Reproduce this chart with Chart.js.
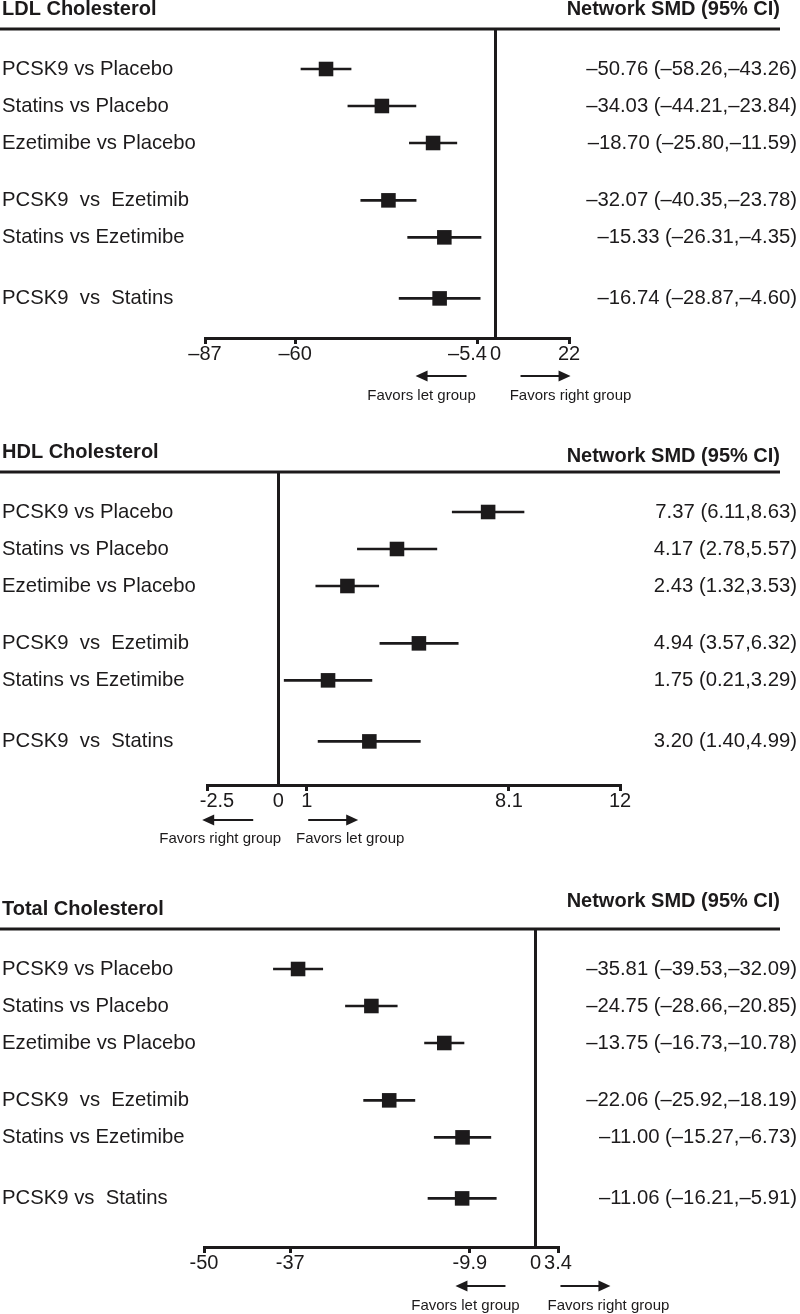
<!DOCTYPE html>
<html>
<head>
<meta charset="utf-8">
<title>Network SMD forest plots</title>
<script src="https://cdn.jsdelivr.net/npm/chart.js@4.4.1/dist/chart.umd.min.js"></script>
<style>
  html, body { margin: 0; padding: 0; background: #fff; }
  #page { position: relative; width: 800px; height: 1314px; overflow: hidden; }
  canvas { position: absolute; left: 0; }
</style>
</head>
<body>
<div id="page">
  <canvas id="ldlChart"></canvas>
  <canvas id="hdlChart"></canvas>
  <canvas id="tcChart"></canvas>
</div>
<script>
// ---------------------------------------------------------
// Data
const rowGroups = [0, 0, 0, 1, 1, 2];

const ldlLabels = ['PCSK9 vs Placebo', 'Statins vs Placebo', 'Ezetimibe vs Placebo',
                   'PCSK9  vs  Ezetimib', 'Statins vs Ezetimibe', 'PCSK9  vs  Statins'];
const ldlEst  = [-50.76, -34.03, -18.70, -32.07, -15.33, -16.74];
const ldlLow  = [-58.26, -44.21, -25.80, -40.35, -26.31, -28.87];
const ldlHigh = [-43.26, -23.84, -11.59, -23.78, -4.35, -4.60];
const ldlTicks = [-87, -60, -5.4, 0, 22];
const ldlTickText = ['\u201387', '\u201360', '\u20135.4\u2002\u2002', '0', '22'];
const ldlFavors = ['Favors let group', 'Favors right group'];

const hdlLabels = ['PCSK9 vs Placebo', 'Statins vs Placebo', 'Ezetimibe vs Placebo',
                   'PCSK9  vs  Ezetimib', 'Statins vs Ezetimibe', 'PCSK9  vs  Statins'];
const hdlEst  = [7.37, 4.17, 2.43, 4.94, 1.75, 3.20];
const hdlLow  = [6.11, 2.78, 1.32, 3.57, 0.21, 1.40];
const hdlHigh = [8.63, 5.57, 3.53, 6.32, 3.29, 4.99];
const hdlTicks = [-2.5, 0, 1, 8.1, 12];
const hdlTickText = ['\u2002\u2002-2.5', '0', '1', '8.1', '12'];
const hdlFavors = ['Favors right group', 'Favors let group'];

const tcLabels = ['PCSK9 vs Placebo', 'Statins vs Placebo', 'Ezetimibe vs Placebo',
                  'PCSK9  vs  Ezetimib', 'Statins vs Ezetimibe', 'PCSK9 vs  Statins'];
const tcEst  = [-35.81, -24.75, -13.75, -22.06, -11.00, -11.06];
const tcLow  = [-39.53, -28.66, -16.73, -25.92, -15.27, -16.21];
const tcHigh = [-32.09, -20.85, -10.78, -18.19, -6.73, -5.91];
const tcTicks = [-50, -37, -9.9, 0, 3.4];
const tcTickText = ['-50', '-37', '-9.9', '0', '3.4'];
const tcFavors = ['Favors let group', 'Favors right group'];

// ---------------------------------------------------------
// Look & layout
const ink = '#1c1a1b';
const family = '"Liberation Sans", Arial, Helvetica, sans-serif';
const rowStep = 37;        // px between rows
const firstRow = 40;       // px from header rule to first row
const groupGap = [0, 0.55, 1.2];

const fmt = v => v.toFixed(2).replace('-', '\u2013');

// header rule, titles, direction arrows
const decorPlugin = {
  id: 'decor',
  afterDraw(chart, args, o) {
    const ctx = chart.ctx;
    const xs = chart.scales.x;
    const zero = xs.getPixelForValue(0);
    const base = xs.top;
    ctx.save();
    ctx.fillStyle = ink;
    ctx.strokeStyle = ink;

    ctx.lineWidth = 3;
    ctx.beginPath();
    ctx.moveTo(0, o.header);
    ctx.lineTo(780, o.header);
    ctx.stroke();

    ctx.font = 'bold 20px ' + family;
    ctx.textBaseline = 'middle';
    ctx.textAlign = 'left';
    ctx.fillText(o.title, 2, o.titleY);
    ctx.textAlign = 'right';
    ctx.fillText('Network SMD (95% CI)', 780, o.netY);

    // arrows
    const ay = base + o.arrowDy;
    ctx.lineWidth = 2;
    o.arrows.forEach(([tail, head]) => {
      const dir = Math.sign(head - tail);
      const hx = zero + head;
      ctx.beginPath();
      ctx.moveTo(zero + tail, ay);
      ctx.lineTo(hx - dir * 10, ay);
      ctx.stroke();
      ctx.beginPath();
      ctx.moveTo(hx, ay);
      ctx.lineTo(hx - dir * 12, ay - 5.5);
      ctx.lineTo(hx - dir * 12, ay + 5.5);
      ctx.closePath();
      ctx.fill();
    });

    ctx.font = '15px ' + family;
    ctx.textAlign = 'center';
    o.favors.forEach((t, i) => ctx.fillText(t, zero + o.favorsX[i], base + o.textDy));
    ctx.restore();
  }
};

function makePanel(id, lay, title, labels, est, low, high, ticks, tickText, favors) {
  const canvas = document.getElementById(id);
  canvas.width = 800;
  canvas.height = lay.height;
  canvas.style.top = lay.top + 'px';

  const headerLocal = lay.header - lay.top;
  const axisLocal = lay.axis - lay.top;
  const pos = labels.map((_, i) => i + groupGap[rowGroups[i]]);
  const yMin = -firstRow / rowStep;
  const yMax = (axisLocal - headerLocal - firstRow) / rowStep;
  const rightText = est.map((v, i) => `${fmt(v)} (${fmt(low[i])},${fmt(high[i])})`);
  const tickFont = { family: family, size: 20, lineHeight: 1 };

  const rowAxis = (texts, width) => ({
    type: 'linear',
    reverse: true,
    offset: false,
    min: yMin,
    max: yMax,
    bounds: 'data',
    grid: { display: false, offset: false },
    border: { display: false },
    afterBuildTicks: s => { s.ticks = pos.map(v => ({ value: v })); },
    afterFit: s => { s.width = width; s.paddingTop = 0; s.paddingBottom = 0; },
    ticks: {
      autoSkip: false,
      crossAlign: 'far',
      color: ink,
      font: { family: family, size: 20.3, lineHeight: 1 },
      callback: (v, i) => texts[i]
    }
  });

  return new Chart(canvas, {
    type: 'scatter',
    data: {
      datasets: [
        {
          type: 'scatter',
          data: est.map((v, i) => ({ x: v, y: pos[i] })),
          pointStyle: 'rect',
          pointRadius: 10.3,
          pointHoverRadius: 10.3,
          backgroundColor: ink,
          borderWidth: 0
        },
        {
          type: 'bar',
          indexAxis: 'y',
          data: low.map((v, i) => ({ x: [v, high[i]], y: pos[i] })),
          barThickness: 2,
          grouped: false,
          backgroundColor: ink,
          borderWidth: 0
        }
      ]
    },
    options: {
      responsive: false,
      animation: false,
      devicePixelRatio: 1,
      events: [],
      layout: { padding: { top: headerLocal, left: 2, right: 3, bottom: 0 } },
      plugins: {
        legend: { display: false },
        tooltip: { enabled: false },
        decor: {
          header: headerLocal,
          title: title,
          titleY: lay.title - lay.top,
          netY: lay.net - lay.top,
          arrows: lay.arrows,
          favors: favors,
          favorsX: lay.favorsX,
          arrowDy: lay.arrowDy,
          textDy: lay.textDy
        }
      },
      scales: {
        x: {
          type: 'linear',
          position: 'bottom',
          offset: false,
          min: ticks[0],
          max: ticks[ticks.length - 1],
          bounds: 'data',
          afterBuildTicks: s => { s.ticks = ticks.map(v => ({ value: v })); },
          afterFit: s => { s.height = lay.height - axisLocal; s.paddingLeft = 0; s.paddingRight = 0; },
          border: { display: true, color: ink, width: 3 },
          grid: {
            drawOnChartArea: true,
            offset: false,
            lineWidth: 3,
            tickWidth: 3,
            tickLength: 6,
            color: c => (c.tick && c.tick.value === 0) ? ink : 'rgba(0,0,0,0)',
            tickColor: c => (c.tick && c.tick.value === 0) ? 'rgba(0,0,0,0)' : ink
          },
          ticks: {
            autoSkip: false,
            maxRotation: 0,
            padding: 0,
            color: ink,
            font: tickFont,
            callback: (v, i) => tickText[i]
          }
        },
        y: Object.assign({ position: 'left' }, rowAxis(labels, lay.left - 2)),
        y2: Object.assign({ position: 'right' }, rowAxis(rightText, 800 - 3 - lay.right))
      }
    },
    plugins: [decorPlugin]
  });
}

makePanel('ldlChart',
  { top: 0, height: 420, header: 29, title: 9, net: 9, axis: 338, left: 205, right: 569,
    arrows: [[-29, -80], [25, 75]], favorsX: [-74, 75], arrowDy: 38, textDy: 58 },
  'LDL Cholesterol', ldlLabels, ldlEst, ldlLow, ldlHigh, ldlTicks, ldlTickText, ldlFavors);

makePanel('hdlChart',
  { top: 420, height: 440, header: 472, title: 452, net: 456, axis: 785, left: 207, right: 620,
    arrows: [[-25, -76], [30, 80]], favorsX: [-58, 72], arrowDy: 35, textDy: 54 },
  'HDL Cholesterol', hdlLabels, hdlEst, hdlLow, hdlHigh, hdlTicks, hdlTickText, hdlFavors);

makePanel('tcChart',
  { top: 860, height: 454, header: 929, title: 909, net: 901, axis: 1247, left: 204, right: 558,
    arrows: [[-30, -80], [25, 75]], favorsX: [-70, 73], arrowDy: 39, textDy: 59 },
  'Total Cholesterol', tcLabels, tcEst, tcLow, tcHigh, tcTicks, tcTickText, tcFavors);
</script>
</body>
</html>
